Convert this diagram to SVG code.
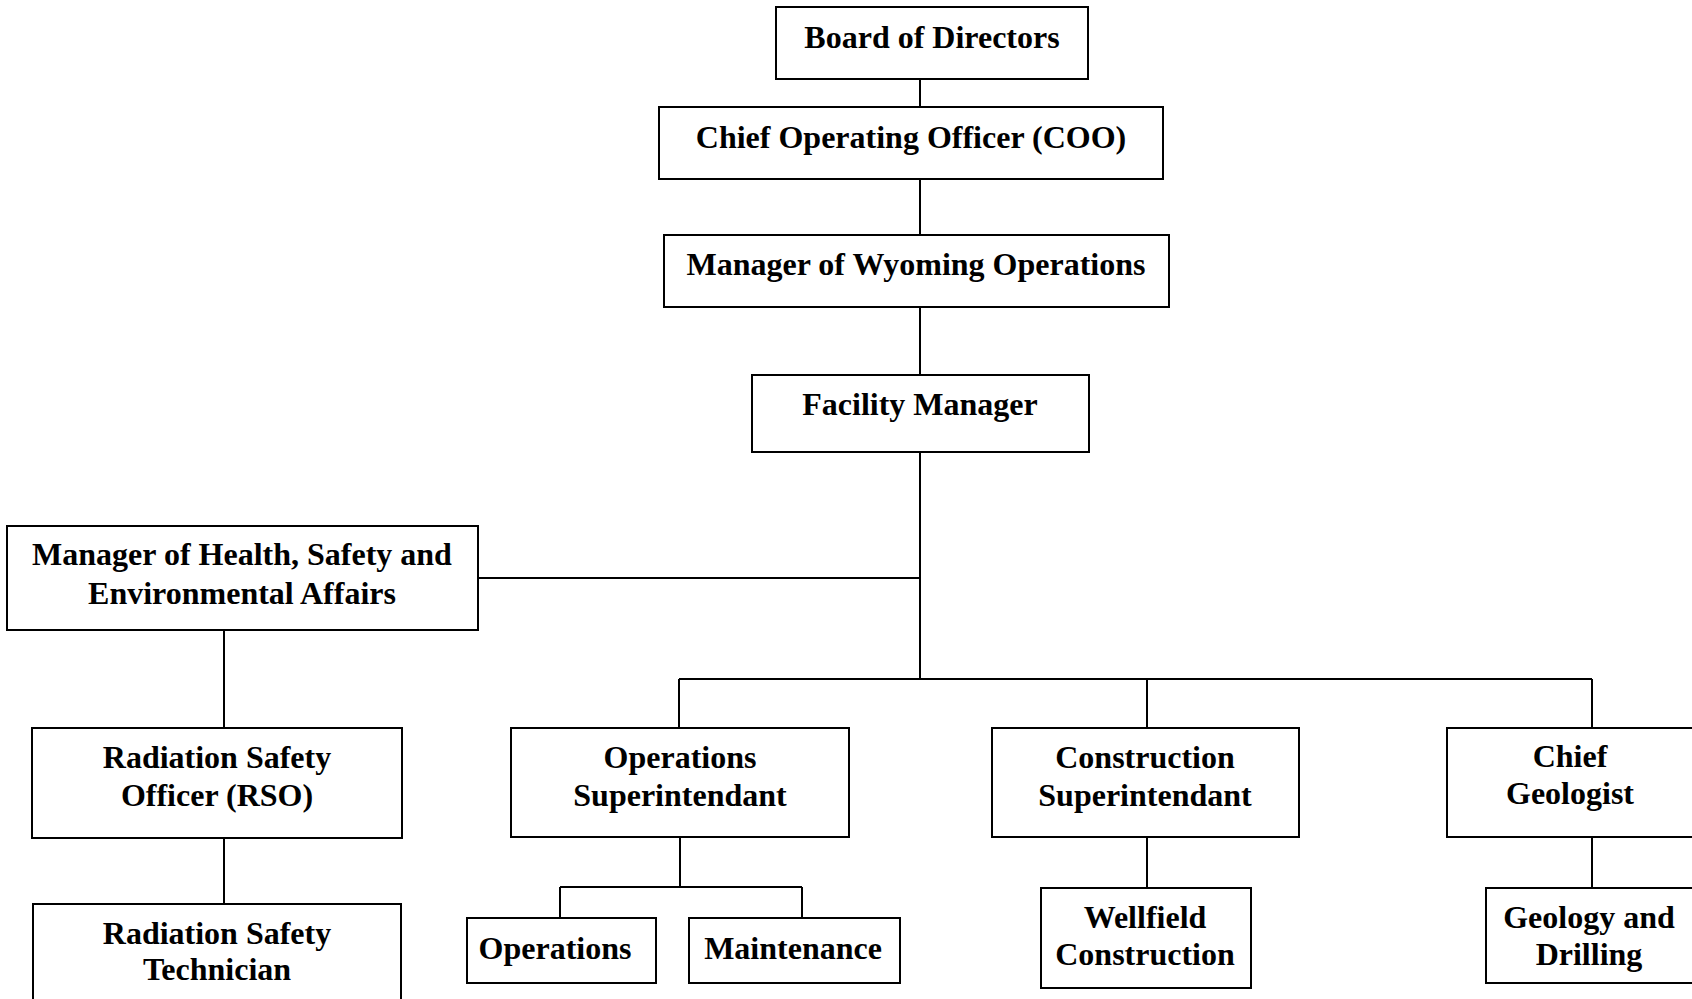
<svg xmlns="http://www.w3.org/2000/svg" width="1692" height="999" viewBox="0 0 1692 999">
<style>
.box{fill:#fff;stroke:#000;stroke-width:2}
.ln{fill:none;stroke:#000;stroke-width:2}
text{font-family:"Liberation Serif","Times New Roman",serif;font-weight:bold;font-size:32px;fill:#000;text-anchor:middle}
</style>
<rect width="1692" height="999" fill="#fff"/>
<g id="connectors">
<path class="ln" d="M920 79V107M920 179V235M920 307V375M920 452V679M478 578H920M679 679H1592M679 679V728M1147 679V728M1592 679V728M224 630V728M224 838V904M680 837V887M560 887H802M560 887V918M802 887V918M1147 837V888M1592 837V888"/>
</g>
<g id="board"><rect class="box" x="776" y="7" width="312" height="72"/><text x="932" y="48">Board of Directors</text></g>
<g id="coo"><rect class="box" x="659" y="107" width="504" height="72"/><text x="911" y="148">Chief Operating Officer (COO)</text></g>
<g id="wyoming"><rect class="box" x="664" y="235" width="505" height="72"/><text x="916" y="275">Manager of Wyoming Operations</text></g>
<g id="facility"><rect class="box" x="752" y="375" width="337" height="77"/><text x="920" y="415">Facility Manager</text></g>
<g id="hse"><rect class="box" x="7" y="526" width="471" height="104"/><text x="242" y="565">Manager of Health, Safety and</text><text x="242" y="604">Environmental Affairs</text></g>
<g id="rso"><rect class="box" x="32" y="728" width="370" height="110"/><text x="217" y="768">Radiation Safety</text><text x="217" y="806">Officer (RSO)</text></g>
<g id="tech"><rect class="box" x="33" y="904" width="368" height="100"/><text x="217" y="944">Radiation Safety</text><text x="217" y="980">Technician</text></g>
<g id="opsup"><rect class="box" x="511" y="728" width="338" height="109"/><text x="680" y="768">Operations</text><text x="680" y="806">Superintendant</text></g>
<g id="operations"><rect class="box" x="467" y="918" width="189" height="65"/><text x="555" y="959">Operations</text></g>
<g id="maintenance"><rect class="box" x="689" y="918" width="211" height="65"/><text x="793" y="959">Maintenance</text></g>
<g id="consup"><rect class="box" x="992" y="728" width="307" height="109"/><text x="1145" y="768">Construction</text><text x="1145" y="806">Superintendant</text></g>
<g id="wellfield"><rect class="box" x="1041" y="888" width="210" height="100"/><text x="1145" y="928">Wellfield</text><text x="1145" y="965">Construction</text></g>
<g id="geologist"><rect class="box" x="1447" y="728" width="260" height="109"/><text x="1570" y="767">Chief</text><text x="1570" y="804">Geologist</text></g>
<g id="geology"><rect class="box" x="1486" y="888" width="220" height="95"/><text x="1589" y="928">Geology and</text><text x="1589" y="965">Drilling</text></g>
</svg>
